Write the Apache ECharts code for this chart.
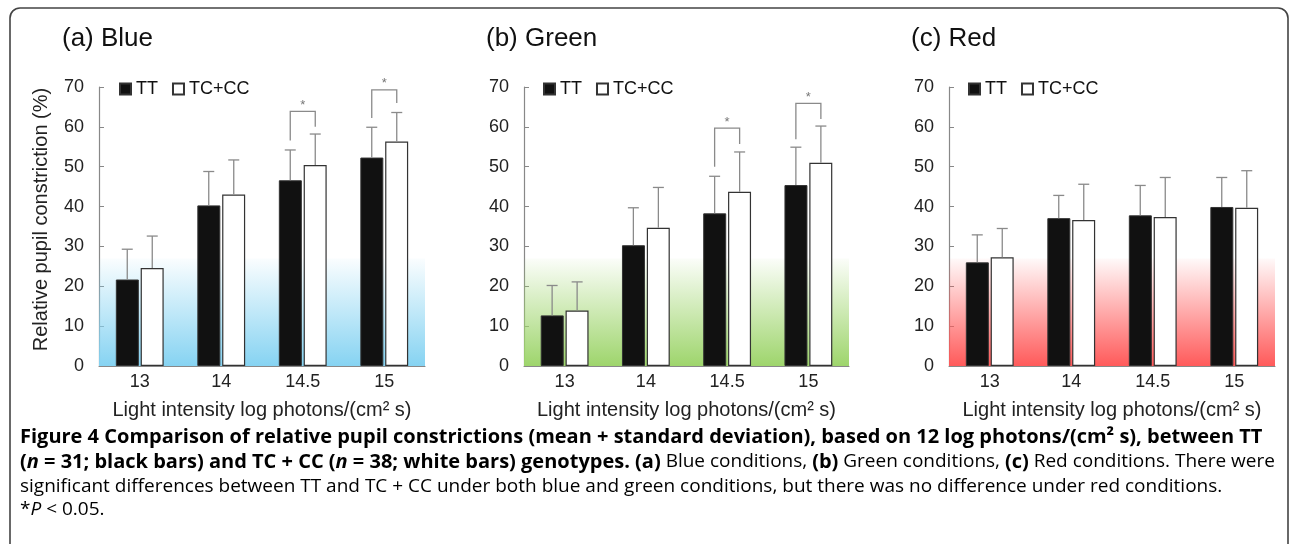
<!DOCTYPE html>
<html>
<head>
<meta charset="utf-8">
<script src="https://cdn.jsdelivr.net/npm/echarts@6/dist/echarts.min.js"></script>
<style>html,body{margin:0;padding:0;background:#fff;}#c{width:1290px;height:544px;}</style>
</head>
<body>
<div id="c"></div>
<script>
// ---- data ----
const categories = ['13', '14', '14.5', '15'];
const panelTitles = ['(a) Blue', '(b) Green', '(c) Red'];
const seriesNames = ['TT', 'TC+CC'];
const yTicks = [0, 70, 10]; // min, max, interval
const xAxisName = 'Light intensity log photons/(cm² s)';
const yAxisName = 'Relative pupil constriction (%)';

const blueTT = [21.7, 40.3, 46.6, 52.3];
const blueTTsd = [7.6, 8.5, 7.6, 7.6];
const blueTC = [24.6, 43.0, 50.4, 56.3];
const blueTCsd = [8.0, 8.7, 7.8, 7.3];

const greenTT = [12.7, 30.3, 38.3, 45.4];
const greenTTsd = [7.5, 9.4, 9.3, 9.5];
const greenTC = [13.9, 34.7, 43.7, 51.0];
const greenTCsd = [7.2, 10.1, 10.0, 9.2];

const redTT = [26.0, 37.1, 37.8, 39.9];
const redTTsd = [6.9, 5.7, 7.5, 7.4];
const redTC = [27.3, 36.6, 37.4, 39.7];
const redTCsd = [7.2, 9.0, 9.9, 9.3];

// significance brackets: [category index, left leg bottom, right leg bottom, bracket top]
const blueSig = [[2, 56.6, 60.0, 63.9], [3, 62.2, 66.0, 69.3]];
const greenSig = [[2, 50.0, 55.7, 59.7], [3, 56.9, 62.0, 65.9]];
const redSig = [];

const bandTop = 27; // background colour band upper value

// ---- styles ----
const FONT = 'Liberation Sans';
const gridBoxes = [
  {left: 99, width: 326, top: 87, height: 279},
  {left: 524, width: 325, top: 87, height: 279},
  {left: 949, width: 326, top: 87, height: 279}
];
const bandColors = [['rgba(134,211,242,0.04)', '#86d3f2'], ['rgba(158,213,108,0.04)', '#9ed56c'], ['rgba(255,90,90,0.03)', '#ff5a5a']];
const titleLefts = [62, 486, 911];
const legendLefts = [119, 543, 968];
const BAR_W = 23, HALF = 12.5;
const ERR = '#8a8a8a';

const panels = [
  {tt: blueTT, ttsd: blueTTsd, tc: blueTC, tcsd: blueTCsd, sig: blueSig},
  {tt: greenTT, ttsd: greenTTsd, tc: greenTC, tcsd: greenTCsd, sig: greenSig},
  {tt: redTT, ttsd: redTTsd, tc: redTC, tcsd: redTCsd, sig: redSig}
];

function errRender(sign) {
  return function (params, api) {
    const idx = api.value(0), mean = api.value(1), sd = api.value(2);
    const b = api.coord([idx, mean]);
    const t = api.coord([idx, mean + sd]);
    const cx = b[0] + sign * HALF;
    return {type: 'group', children: [
      {type: 'line', shape: {x1: cx, y1: b[1], x2: cx, y2: t[1]}, style: {stroke: ERR, lineWidth: 1.3}},
      {type: 'line', shape: {x1: cx - 5.5, y1: t[1], x2: cx + 5.5, y2: t[1]}, style: {stroke: ERR, lineWidth: 1.3}}
    ]};
  };
}
function sigRender(params, api) {
  const idx = api.value(0);
  const l = api.coord([idx, api.value(1)]);
  const r = api.coord([idx, api.value(2)]);
  const t = api.coord([idx, api.value(3)]);
  const xl = l[0] - HALF, xr = l[0] + HALF;
  return {type: 'group', children: [
    {type: 'polyline', shape: {points: [[xl, l[1]], [xl, t[1]], [xr, t[1]], [xr, r[1]]]},
      style: {stroke: ERR, lineWidth: 1.3, fill: null}},
    {type: 'text', x: (xl + xr) / 2, y: t[1] - 6,
      style: {text: '*', fill: '#777', font: '13px ' + FONT, align: 'center', verticalAlign: 'middle'}}
  ]};
}

const grid = [], xAxis = [], yAxis = [], series = [], legend = [], title = [];
panels.forEach((p, i) => {
  grid.push(gridBoxes[i]);
  xAxis.push({
    type: 'category', gridIndex: i, data: categories,
    axisTick: {show: false},
    axisLine: {lineStyle: {color: '#888', width: 1.2}},
    axisLabel: {fontFamily: FONT, fontSize: 18, color: '#222', margin: 7},
    name: xAxisName, nameLocation: 'middle', nameGap: 34,
    nameTextStyle: {fontFamily: FONT, fontSize: 20, color: '#222'}
  });
  yAxis.push({
    type: 'value', gridIndex: i, min: yTicks[0], max: yTicks[1], interval: yTicks[2],
    splitLine: {show: false},
    axisLine: {show: true, lineStyle: {color: '#888', width: 1.2}},
    axisTick: {show: true, inside: true, length: 5, lineStyle: {color: '#888'}},
    axisLabel: {fontFamily: FONT, fontSize: 18, color: '#222', margin: 15},
    name: i === 0 ? yAxisName : '', nameLocation: 'middle', nameGap: 48,
    nameTextStyle: {fontFamily: FONT, fontSize: 20, color: '#222', padding: [0, 0, 0, 14]}
  });
  series.push({
    name: seriesNames[0], type: 'bar', xAxisIndex: i, yAxisIndex: i, data: p.tt,
    barWidth: BAR_W, barGap: '8%', z: 2,
    itemStyle: {color: '#111', borderColor: '#333', borderWidth: 1},
    markArea: {
      silent: true,
      data: [[{yAxis: 0}, {yAxis: bandTop}]],
      itemStyle: {
        color: new echarts.graphic.LinearGradient(0, 0, 0, 1, [
          {offset: 0, color: bandColors[i][0]},
          {offset: 1, color: bandColors[i][1]}
        ])
      }
    }
  });
  series.push({
    name: seriesNames[1], type: 'bar', xAxisIndex: i, yAxisIndex: i, data: p.tc,
    barWidth: BAR_W, barGap: '8%', z: 2,
    itemStyle: {color: '#fff', borderColor: '#333', borderWidth: 1.2}
  });
  series.push({
    type: 'custom', xAxisIndex: i, yAxisIndex: i, z: 4, silent: true,
    renderItem: errRender(-1),
    data: categories.map((c, k) => [k, p.tt[k], p.ttsd[k]])
  });
  series.push({
    type: 'custom', xAxisIndex: i, yAxisIndex: i, z: 4, silent: true,
    renderItem: errRender(1),
    data: categories.map((c, k) => [k, p.tc[k], p.tcsd[k]])
  });
  if (p.sig.length) {
    series.push({
      type: 'custom', xAxisIndex: i, yAxisIndex: i, z: 4, silent: true,
      renderItem: sigRender, data: p.sig
    });
  }
  legend.push({
    data: seriesNames, left: legendLefts[i], top: 80, padding: 0,
    icon: 'rect', itemWidth: 11, itemHeight: 11, itemGap: 14,
    textStyle: {fontFamily: FONT, fontSize: 18, color: '#111'}
  });
  title.push({
    text: panelTitles[i], left: titleLefts[i], top: 26, padding: 0,
    textStyle: {fontFamily: FONT, fontSize: 26, fontWeight: 'normal', color: '#111'}
  });
});

const CAP = 'Open Sans';
const rich = {
  b: {fontFamily: CAP, fontSize: 20, fontWeight: 'bold', color: '#222'},
  bi: {fontFamily: CAP, fontSize: 20, fontWeight: 'bold', fontStyle: 'italic', color: '#222'},
  r: {fontFamily: CAP, fontSize: 19, color: '#454545'},
  ri: {fontFamily: CAP, fontSize: 19, fontStyle: 'italic', color: '#454545'}
};
const captionLines = [
  '{b|Figure 4 Comparison of relative pupil constrictions (mean + standard deviation), based on 12 log photons/(cm² s), between TT}',
  '{b|(}{bi|n}{b| = 31; black bars) and TC + CC (}{bi|n}{b| = 38; white bars) genotypes. (a)}{r| Blue conditions, }{b|(b)}{r| Green conditions, }{b|(c)}{r| Red conditions. There were}',
  '{r|significant differences between TT and TC + CC under both blue and green conditions, but there was no difference under red conditions.}',
  '{r|*}{ri|P}{r| < 0.05.}'
];
const captionY = [437, 462, 487, 510];

const graphic = [
  {type: 'rect', shape: {x: 10, y: 8, width: 1278, height: 570, r: 10},
    style: {fill: null, stroke: '#444', lineWidth: 1.6}, z: -10, silent: true}
];
captionLines.forEach((t, k) => {
  graphic.push({type: 'text', x: 20, y: captionY[k],
    style: {text: t, rich: rich, verticalAlign: 'middle', align: 'left'}});
});

const chart = echarts.init(document.getElementById('c'), null, {renderer: 'canvas'});
chart.setOption({
  animation: false,
  backgroundColor: '#fff',
  title, legend, grid, xAxis, yAxis, series, graphic
});
</script>
</body>
</html>
